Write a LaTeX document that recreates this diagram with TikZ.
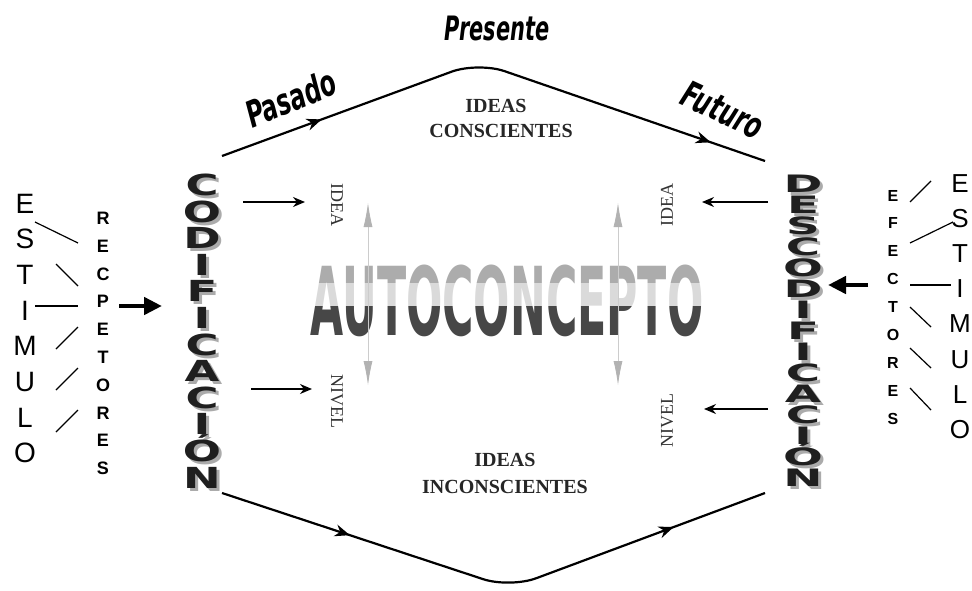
\documentclass[tikz,border=0pt]{standalone}
\usepackage{fontspec}
\usepackage{graphicx}
\setmainfont{Liberation Serif}
\newfontfamily\arialf{Liberation Sans}
\newfontfamily\heavyf{DejaVu Sans}
\usetikzlibrary{arrows.meta,decorations.markings}
\newcommand{\shd}[2]{\makebox[0pt][l]{\hspace{3pt}\raisebox{-3pt}{\textcolor{black!33}{\scalebox{#1}[1]{#2}}}}\textcolor{black!88}{\scalebox{#1}[1]{#2}}}
\begin{document}
\begin{tikzpicture}[x=1pt,y=-1pt,
  bigletter/.style={anchor=base,inner sep=0pt,font=\arialf\fontsize{28}{28}\selectfont},
  bigletterr/.style={anchor=base,inner sep=0pt,font=\arialf\fontsize{26}{26}\selectfont},
  recletter/.style={anchor=base,inner sep=0pt,font=\arialf\bfseries\fontsize{18}{18}\selectfont},
  efeletter/.style={anchor=base,inner sep=0pt,font=\arialf\bfseries\fontsize{16}{16}\selectfont},
  codletter/.style={anchor=base,inner sep=0pt,font=\heavyf\bfseries\fontsize{29}{29}\selectfont},
  desletter/.style={anchor=base,inner sep=0pt,font=\heavyf\bfseries\fontsize{24}{24}\selectfont},
  timelabel/.style={inner sep=0pt,font=\heavyf\bfseries\itshape\fontsize{24}{24}\selectfont},
  timelabelbig/.style={inner sep=0pt,font=\heavyf\bfseries\itshape\fontsize{27}{27}\selectfont},
  ideas/.style={anchor=base,inner sep=0pt,font=\bfseries\fontsize{20}{20}\selectfont,text=black!85},
  levellabel/.style={inner sep=0pt,font=\fontsize{18}{18}\selectfont,text=black!80},
  autoc/.style={anchor=base,inner sep=0pt,font=\heavyf\bfseries\fontsize{95}{95}\selectfont},
  thinarrow/.style={-{Stealth[length=12pt,width=10pt]},line width=1.4pt},
  thickarrow/.style={-{Triangle[length=18pt,width=17pt]},line width=4.5pt},
  grayarrow/.style={{Latex[length=24pt,width=9pt,color=black!30]}-{Latex[length=24pt,width=9pt,color=black!30]},line width=0.8pt,draw=black!20},
  strokeline/.style={line width=1.2pt},
  timeline/.style={line width=2.2pt,rounded corners=28pt,postaction=decorate},
  midarrow/.style 2 args={decoration={markings,
     mark=at position #1 with {\arrow{Stealth[length=15pt,width=12pt]}},
     mark=at position #2 with {\arrow{Stealth[length=15pt,width=12pt]}}}}
]
\fill[white] (0,0) rectangle (972,590);
\useasboundingbox (0,0) rectangle (972,590);

% time lines
\coordinate (tl) at (222,156);
\coordinate (tp) at (478,62);
\coordinate (tr) at (765,161);
\draw[timeline,midarrow={0.185}{0.9}] (tl) -- (tp) -- (tr);
\coordinate (bl) at (222,493);
\coordinate (bp) at (510,588);
\coordinate (br) at (765,493);
\draw[timeline,midarrow={0.235}{0.83}] (bl) -- (bp) -- (br);

% time labels
\node[timelabelbig,rotate=22] (pasado) at (291,98) {\scalebox{0.87}[1.35]{Pasado}};
\node[timelabel] (presente) at (497,28) {\scalebox{0.87}[1.4]{Presente}};
\node[timelabelbig,rotate=-25] (futuro) at (723,110) {\scalebox{0.87}[1.35]{Futuro}};

% ideas
\node[ideas] (ic1) at (496,112) {IDEAS};
\node[ideas] (ic2) at (501,137) {CONSCIENTES};
\node[ideas] (ii1) at (505,466) {IDEAS};
\node[ideas] (ii2) at (505,493) {INCONSCIENTES};

% left ESTIMULO
\foreach \L [count=\i from 0] in {E,S,T,I,M,U,L,O}{
  \node[bigletter] (estl\i) at (25,213+35.7*\i) {\L};
}
% RECPETORES
\foreach \L [count=\i from 0] in {R,E,C,P,E,T,O,R,E,S}{
  \node[recletter] (rec\i) at (103,224.5+27.8*\i) {\L};
}
\draw[strokeline] (35,222) -- (78,243);
\draw[strokeline] (56,264) -- (78,286);
\draw[strokeline] (35,306) -- (78,306);
\draw[strokeline] (56,349) -- (78,327);
\draw[strokeline] (56,390) -- (78,368);
\draw[strokeline] (56,432) -- (78,410);

% right ESTIMULO
\foreach \L [count=\i from 0] in {E,S,T,I,M,U,L,O}{
  \node[bigletterr] (estr\i) at (960,192+35.2*\i) {\L};
}
% EFECTORES
\foreach \L [count=\i from 0] in {E,F,E,C,T,O,R,E,S}{
  \node[efeletter] (efe\i) at (893,201+27.9*\i) {\L};
}
\draw[strokeline] (910,202) -- (931,181);
\draw[strokeline] (910,243) -- (953,222);
\draw[strokeline] (910,285) -- (951,285);
\draw[strokeline] (910,307) -- (931,327);
\draw[strokeline] (910,348) -- (931,368);
\draw[strokeline] (910,388) -- (931,410);

% CODIFICACION
\foreach \L [count=\i from 0] in {C,O,D,I,F,I,C,A,C,I,Ó,N}{
  \node[codletter] (cod\i) at (202,195.5+26.6*\i) {\shd{1.55}{\L}};
}
% DESCODIFICACION
\foreach \L [count=\i from 0] in {D,E,S,C,O,D,I,F,I,C,A,C,I,Ó,N}{
  \node[desletter] (des\i) at (803,192+21.07*\i) {\shd{1.95}{\L}};
}

% thick arrows
\coordinate (ta1) at (119,306); \coordinate (ta2) at (162,306);
\draw[thickarrow] (ta1) -- (ta2);
\coordinate (tb1) at (868,285); \coordinate (tb2) at (828,285);
\draw[thickarrow] (tb1) -- (tb2);

% level labels
\node[levellabel,rotate=-90] (idealeft) at (337,205) {IDEA};
\node[levellabel,rotate=-90] (nivelleft) at (337,401) {NIVEL};
\node[levellabel,rotate=90] (idearight) at (667,205) {IDEA};
\node[levellabel,rotate=90] (nivelright) at (667,420) {NIVEL};

% thin arrows
\coordinate (a1s) at (243,202); \coordinate (a1e) at (305,202);
\coordinate (a2s) at (251,389); \coordinate (a2e) at (312,389);
\coordinate (a3s) at (768,202); \coordinate (a3e) at (702,202);
\coordinate (a4s) at (768,409); \coordinate (a4e) at (704,409);
\draw[thinarrow] (a1s) -- (a1e);
\draw[thinarrow] (a2s) -- (a2e);
\draw[thinarrow] (a3s) -- (a3e);
\draw[thinarrow] (a4s) -- (a4e);

% AUTOCONCEPTO
\node[autoc,text=black!72] (auto) at (507,335) {\scalebox{0.45}[1]{AUTOCONCEPTO}};
\fill[white,opacity=0.55] (300,255) rectangle (715,283);
\fill[white,opacity=0.8] (300,283) rectangle (715,306);

% gray double arrows
\coordinate (g1a) at (368,203); \coordinate (g1b) at (368,385);
\coordinate (g2a) at (618,203); \coordinate (g2b) at (618,385);
\draw[grayarrow] (g1a) -- (g1b);
\draw[grayarrow] (g2a) -- (g2b);
\end{tikzpicture}
\end{document}
